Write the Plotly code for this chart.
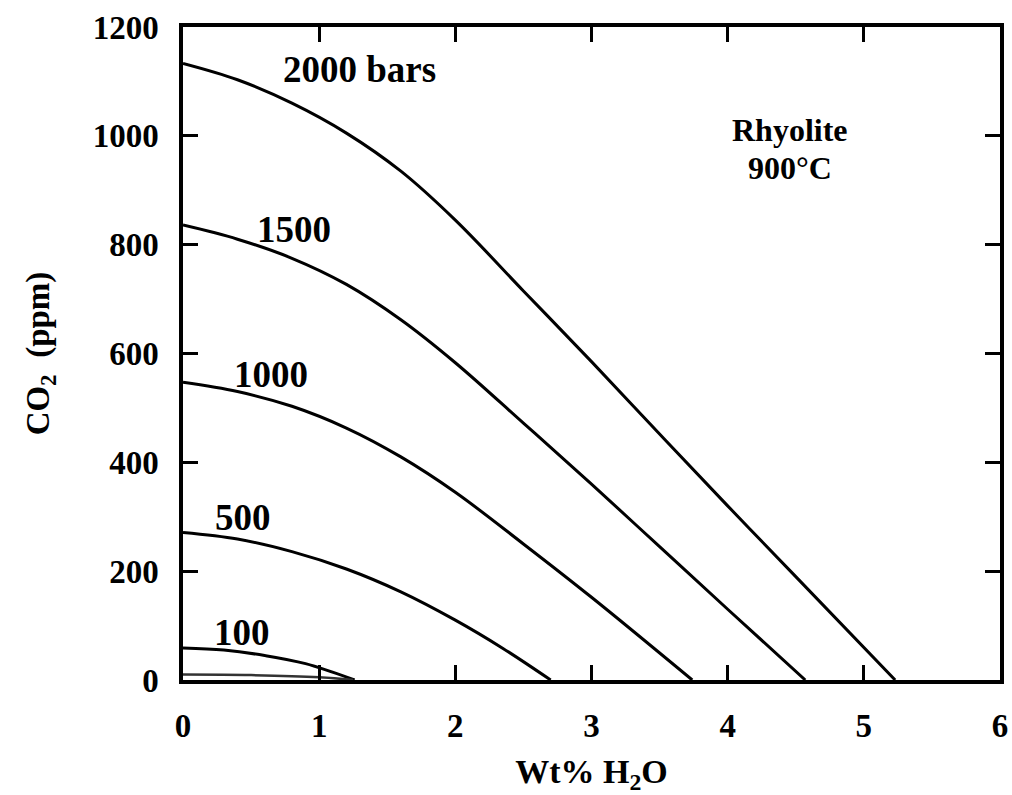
import plotly.graph_objects as go

# CO2–H2O saturation isobars for rhyolite melt at 900 °C
h2o_2000 = [0, 0.4, 0.8, 1.2, 1.6, 2.0, 2.5, 3.0, 3.5, 4.0, 4.5, 5.23]
co2_2000 = [1133, 1103, 1060, 1005, 935, 845, 715, 585, 452, 320, 190, 0]

h2o_1500 = [0, 0.4, 0.8, 1.2, 1.6, 2.0, 2.5, 3.0, 3.5, 4.0, 4.57]
co2_1500 = [836, 810, 775, 727, 662, 583, 472, 360, 245, 130, 0]

h2o_1000 = [0, 0.4, 0.8, 1.2, 1.6, 2.0, 2.5, 3.0, 3.74]
co2_1000 = [547, 530, 503, 463, 410, 345, 250, 152, 0]

h2o_500 = [0, 0.4, 0.8, 1.2, 1.6, 2.0, 2.35, 2.70]
co2_500 = [271, 259, 236, 204, 162, 110, 58, 0]

h2o_100 = [0, 0.3, 0.6, 0.9, 1.26]
co2_100 = [59, 55, 45, 30, 0]

h2o_low = [0, 0.5, 1.0, 1.25]
co2_low = [10, 9, 5, 0]

isobar_labels = ["2000 bars", "1500", "1000", "500", "100"]
label_x = [0.72, 0.53, 0.36, 0.22, 0.21]
label_y = [1122, 828, 561, 299, 88]

x_ticks = [0, 1, 2, 3, 4, 5, 6]
y_ticks = [0, 200, 400, 600, 800, 1000, 1200]

SERIF = "Liberation Serif, Times New Roman, serif"

fig = go.Figure()

curves = [
    (h2o_2000, co2_2000, "black", 3),
    (h2o_1500, co2_1500, "black", 3),
    (h2o_1000, co2_1000, "black", 3),
    (h2o_500, co2_500, "black", 3),
    (h2o_100, co2_100, "black", 3),
    (h2o_low, co2_low, "#333333", 2.5),
]
for xs, ys, col, w in curves:
    fig.add_trace(go.Scatter(
        x=xs, y=ys, mode="lines",
        line=dict(color=col, width=w, shape="spline", smoothing=1.0),
        showlegend=False, hoverinfo="skip",
    ))

for txt, lx, ly in zip(isobar_labels, label_x, label_y):
    fig.add_annotation(
        x=lx, y=ly, text=txt, showarrow=False,
        xanchor="left", yanchor="middle",
        font=dict(family=SERIF, size=37, color="black"),
    )

fig.add_annotation(x=4.46, y=1010, text="<b>Rhyolite</b>", showarrow=False,
                   xanchor="center", yanchor="middle",
                   font=dict(family=SERIF, size=32, color="black"))
fig.add_annotation(x=4.46, y=941, text="<b>900°C</b>", showarrow=False,
                   xanchor="center", yanchor="middle",
                   font=dict(family=SERIF, size=32, color="black"))

axis_common = dict(
    showgrid=False, zeroline=False,
    showline=True, linecolor="black", linewidth=3.5,
    mirror="ticks", ticks="inside", ticklen=15, tickwidth=3, tickcolor="black",
    tickfont=dict(family=SERIF, size=33, color="black", weight="bold"),
    ticklabeloverflow="allow",
)

fig.update_xaxes(
    range=[0, 6], tickvals=x_ticks, ticklabelstandoff=14,
    title=dict(text="Wt% H<sub>2</sub>O", standoff=18,
               font=dict(family=SERIF, size=34, color="black", weight="bold")),
    **axis_common,
)
fig.update_yaxes(
    range=[0, 1200], tickvals=y_ticks, ticklabelstandoff=14,
    title=dict(text="CO<sub>2</sub>&nbsp;&nbsp;(ppm)", standoff=34,
               font=dict(family=SERIF, size=33, color="black", weight="bold")),
    **axis_common,
)

fig.update_layout(
    width=1012, height=795,
    margin=dict(l=183, r=4, t=27, b=115),
    paper_bgcolor="white", plot_bgcolor="white",
    font=dict(family=SERIF, color="black", weight="bold"),
)

fig.write_html("out.html")
